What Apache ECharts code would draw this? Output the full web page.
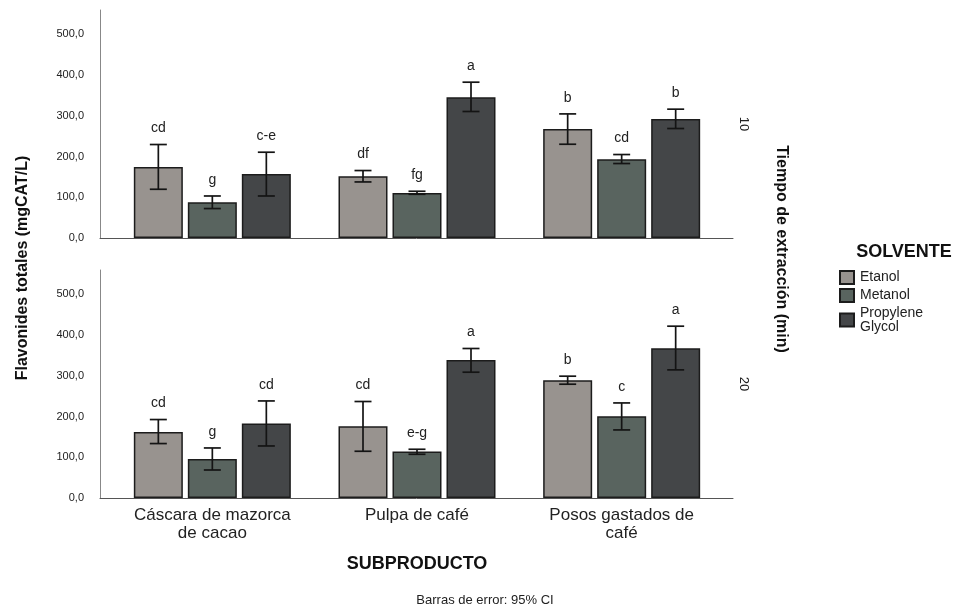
<!DOCTYPE html>
<html>
<head>
<meta charset="utf-8">
<script src="https://cdn.jsdelivr.net/npm/echarts@6/dist/echarts.min.js"></script>
<style>
html,body{margin:0;padding:0;background:#fff;}
#main{width:962px;height:610px;}
</style>
</head>
<body>
<div id="main"></div>
<script>
// ---- data ----
const categories = ['Cáscara de mazorca\nde cacao', 'Pulpa de café', 'Posos gastados de\ncafé'];
const solvents = ['Etanol', 'Metanol', 'Propylene Glycol'];
const yTicks = [0, 100, 200, 300, 400, 500];

// Tiempo 10 min
const t10Etanol = [174.5, 151.7, 268.0];
const t10Metanol = [87.8, 110.6, 193.5];
const t10PG = [157.3, 345.9, 292.5];
const t10EtanolLow = [119.7, 137.7, 230.3];
const t10EtanolHigh = [229.6, 165.7, 304.8];
const t10MetanolLow = [72.3, 107.4, 182.9];
const t10MetanolHigh = [103.2, 114.8, 205.0];
const t10PGLow = [103.2, 310.7, 268.9];
const t10PGHigh = [210.7, 382.7, 316.4];
const t10Letters = [['cd', 'df', 'b'], ['g', 'fg', 'cd'], ['c-e', 'a', 'b']];

// Tiempo 20 min
const t20Etanol = [162.2, 176.3, 289.3];
const t20Metanol = [95.9, 114.0, 200.8];
const t20PG = [182.9, 339.2, 368.0];
const t20EtanolLow = [133.7, 114.8, 279.5];
const t20EtanolHigh = [192.7, 237.0, 299.2];
const t20MetanolLow = [68.8, 107.4, 167.2];
const t20MetanolHigh = [122.9, 119.7, 233.5];
const t20PGLow = [127.8, 309.0, 314.7];
const t20PGHigh = [238.4, 367.2, 422.0];
const t20Letters = [['cd', 'cd', 'b'], ['g', 'e-g', 'c'], ['cd', 'a', 'a']];

// ---- styling ----
const colors = ['#98938f', '#59645f', '#444648'];
const BAR_W = 49, BAR_GAP = 5;
const FONT = 'Arial, "Liberation Sans", Helvetica, sans-serif';
const Y_MAX = 560;

const chart = echarts.init(document.getElementById('main'));

function fmt(v) { return v.toFixed(1).replace('.', ','); }

function errSeries(xIdx, lows, highs, letters) {
  const data = [], labs = [];
  for (let s = 0; s < 3; s++) {
    for (let c = 0; c < 3; c++) {
      data.push([c, s, lows[s][c], highs[s][c]]);
      labs.push(letters[s][c]);
    }
  }
  return {
    type: 'custom', xAxisIndex: xIdx, yAxisIndex: xIdx, z: 5, silent: true,
    encode: { x: 0, y: [2, 3] },
    data: data,
    renderItem: function (params, api) {
      const cat = api.value(0), s = api.value(1);
      const lo = api.coord([cat, api.value(2)]);
      const hi = api.coord([cat, api.value(3)]);
      const x = lo[0] + (s - 1) * (BAR_W + BAR_GAP);
      const cap = 8.5;
      const st = { stroke: '#141414', lineWidth: 1.7 };
      return {
        type: 'group', children: [
          { type: 'line', shape: { x1: x, y1: lo[1], x2: x, y2: hi[1] }, style: st },
          { type: 'line', shape: { x1: x - cap, y1: hi[1], x2: x + cap, y2: hi[1] }, style: st },
          { type: 'line', shape: { x1: x - cap, y1: lo[1], x2: x + cap, y2: lo[1] }, style: st },
          { type: 'text', style: { text: labs[params.dataIndex], x: x, y: hi[1] - 16, align: 'center', verticalAlign: 'middle', font: '14px ' + FONT, fill: '#222' } }
        ]
      };
    }
  };
}

function barSeries(xIdx, name, vals, ci) {
  return {
    type: 'bar', name: name, xAxisIndex: xIdx, yAxisIndex: xIdx,
    data: vals, barWidth: BAR_W, barGap: (BAR_GAP / BAR_W * 100) + '%',
    itemStyle: { color: colors[ci], borderColor: '#1c1c1c', borderWidth: 1.5 },
    emphasis: { disabled: true }
  };
}

const axisGridL = 100, axisGridR = 229;
const barGridL = 110, barGridR = 238;
const topT = 10, topH = 228, botT = 270, botH = 228;

const option = {
  animation: false,
  backgroundColor: '#fff',
  grid: [
    { left: axisGridL, right: axisGridR, top: topT, height: topH },
    { left: barGridL, right: barGridR, top: topT, height: topH },
    { left: axisGridL, right: axisGridR, top: botT, height: botH },
    { left: barGridL, right: barGridR, top: botT, height: botH }
  ],
  xAxis: [
    { type: 'value', gridIndex: 0, min: 0, max: 1, axisLine: { show: true, onZero: false, lineStyle: { color: '#555', width: 1 } }, axisTick: { show: false }, axisLabel: { show: false }, splitLine: { show: false } },
    { type: 'category', gridIndex: 1, data: categories, axisLine: { show: false }, axisTick: { show: false }, axisLabel: { show: false } },
    { type: 'value', gridIndex: 2, min: 0, max: 1, axisLine: { show: true, onZero: false, lineStyle: { color: '#555', width: 1 } }, axisTick: { show: false }, axisLabel: { show: false }, splitLine: { show: false } },
    { type: 'category', gridIndex: 3, data: categories, axisLine: { show: false }, axisTick: { show: false },
      axisLabel: { show: true, interval: 0, margin: 8, fontFamily: FONT, fontSize: 17, lineHeight: 18, color: '#222' } }
  ],
  yAxis: [0, 1, 2, 3].map(function (g) {
    const vis = (g % 2 === 0);
    return {
      type: 'value', gridIndex: g, min: yTicks[0], max: Y_MAX, interval: yTicks[1] - yTicks[0], show: vis,
      axisLine: { show: vis, lineStyle: { color: '#888', width: 1 } },
      axisTick: { show: false }, splitLine: { show: false },
      axisLabel: { show: vis, showMaxLabel: false, margin: 16, fontFamily: FONT, fontSize: 11, color: '#222', formatter: fmt }
    };
  }),
  legend: {
    orient: 'vertical', left: 839, top: 270, padding: 0,
    itemWidth: 14, itemHeight: 13, itemGap: 3, icon: 'rect',
    data: solvents,
    formatter: function (n) { return n === 'Propylene Glycol' ? 'Propylene\nGlycol' : n; },
    textStyle: { fontFamily: FONT, fontSize: 14, lineHeight: 14, color: '#222', padding: [0, 0, 0, 1] },
    selectedMode: false
  },
  graphic: [
    { type: 'text', x: 23, y: 268, rotation: Math.PI / 2, style: { text: 'Flavonides totales (mgCAT/L)', font: 'bold 16px ' + FONT, fill: '#111', align: 'center', verticalAlign: 'middle' } },
    { type: 'text', x: 781, y: 249, rotation: -Math.PI / 2, style: { text: 'Tiempo de extracción (min)', font: 'bold 16px ' + FONT, fill: '#111', align: 'center', verticalAlign: 'middle' } },
    { type: 'text', x: 744, y: 124, rotation: -Math.PI / 2, style: { text: '10', font: '13px ' + FONT, fill: '#222', align: 'center', verticalAlign: 'middle' } },
    { type: 'text', x: 744, y: 384, rotation: -Math.PI / 2, style: { text: '20', font: '13px ' + FONT, fill: '#222', align: 'center', verticalAlign: 'middle' } },
    { type: 'text', x: 904, y: 252, style: { text: 'SOLVENTE', font: 'bold 18px ' + FONT, fill: '#111', align: 'center', verticalAlign: 'middle' } },
    { type: 'text', x: 417, y: 564, style: { text: 'SUBPRODUCTO', font: 'bold 18px ' + FONT, fill: '#111', align: 'center', verticalAlign: 'middle' } },
    { type: 'text', x: 485, y: 600, style: { text: 'Barras de error: 95% CI', font: '13px ' + FONT, fill: '#222', align: 'center', verticalAlign: 'middle' } }
  ],
  series: [
    barSeries(1, solvents[0], t10Etanol, 0),
    barSeries(1, solvents[1], t10Metanol, 1),
    barSeries(1, solvents[2], t10PG, 2),
    errSeries(1, [t10EtanolLow, t10MetanolLow, t10PGLow], [t10EtanolHigh, t10MetanolHigh, t10PGHigh], t10Letters),
    barSeries(3, solvents[0], t20Etanol, 0),
    barSeries(3, solvents[1], t20Metanol, 1),
    barSeries(3, solvents[2], t20PG, 2),
    errSeries(3, [t20EtanolLow, t20MetanolLow, t20PGLow], [t20EtanolHigh, t20MetanolHigh, t20PGHigh], t20Letters)
  ]
};
chart.setOption(option);
</script>
</body>
</html>
